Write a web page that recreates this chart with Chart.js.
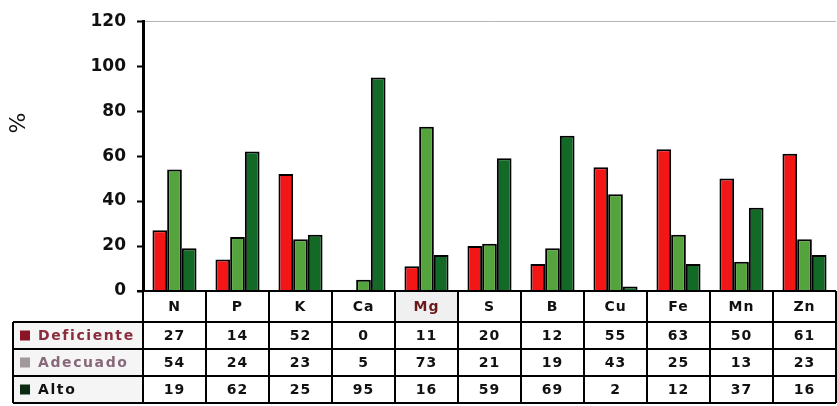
<!DOCTYPE html>
<html>
<head>
<meta charset="utf-8">
<script src="https://cdn.jsdelivr.net/npm/chart.js@4/dist/chart.umd.min.js"></script>
<style>
  html, body { margin: 0; padding: 0; background: #fff; }
  #wrap { position: relative; width: 837px; height: 406px; }
</style>
</head>
<body>
<div id="wrap"><canvas id="c" width="837" height="406"></canvas></div>
<script>
// Nutrientes analizados
const nutrientes = ['N', 'P', 'K', 'Ca', 'Mg', 'S', 'B', 'Cu', 'Fe', 'Mn', 'Zn'];

// Porcentaje de muestras por clase
const deficiente = [27, 14, 52, 0, 11, 20, 12, 55, 63, 50, 61];
const adecuado   = [54, 24, 23, 5, 73, 21, 19, 43, 25, 13, 23];
const alto       = [19, 62, 25, 95, 16, 59, 69, 2, 12, 37, 16];

// Escala vertical
const yTicks = [0, 20, 40, 60, 80, 100, 120];
const yTitle = '%';

const series = [
  { name: 'Deficiente', values: deficiente, color: '#f21616', key: '#8b1426', text: '#8a2c3c' },
  { name: 'Adecuado',   values: adecuado,   color: '#55a33c', key: '#a09a9c', text: '#86687a' },
  { name: 'Alto',       values: alto,       color: '#126a26', key: '#0b2a12', text: '#111111' }
];

const FONT = '"DejaVu Sans", "Liberation Sans", Arial, sans-serif';

// Tabla de datos bajo el eje X, alineada con las categorías
const dataTable = {
  id: 'dataTable',
  afterDraw(chart) {
    const ctx = chart.ctx;
    const area = chart.chartArea;
    const n = nutrientes.length;
    const colW = (area.right - area.left) / n;
    const rows = [area.bottom, area.bottom + 31, area.bottom + 58, area.bottom + 85, area.bottom + 112];
    const legendLeft = 13;

    ctx.save();

    // fondo de la columna de leyenda
    ctx.fillStyle = '#f5f5f5';
    ctx.fillRect(legendLeft, rows[1], area.left - legendLeft, rows[4] - rows[1]);
    // celda Mg resaltada
    const mgIdx = nutrientes.indexOf('Mg');
    ctx.fillStyle = '#f0f0f0';
    ctx.fillRect(area.left + mgIdx * colW, rows[0], colW, rows[1] - rows[0]);

    ctx.strokeStyle = '#000';
    ctx.lineWidth = 2;
    ctx.beginPath();
    // líneas horizontales
    ctx.moveTo(area.left - 6, rows[0]); ctx.lineTo(area.right, rows[0]);
    for (let r = 1; r < rows.length; r++) {
      ctx.moveTo(legendLeft, rows[r]); ctx.lineTo(area.right, rows[r]);
    }
    // líneas verticales
    for (let i = 0; i <= n; i++) {
      const x = area.left + i * colW;
      ctx.moveTo(x, rows[0]); ctx.lineTo(x, rows[4]);
    }
    ctx.moveTo(legendLeft, rows[1]); ctx.lineTo(legendLeft, rows[4]);
    ctx.stroke();

    ctx.textAlign = 'center';
    ctx.textBaseline = 'middle';
    ctx.font = 'bold 14px ' + FONT;
    if ('letterSpacing' in ctx) ctx.letterSpacing = '1px';
    nutrientes.forEach((lab, i) => {
      const cx = area.left + (i + 0.5) * colW;
      ctx.fillStyle = lab === 'Mg' ? '#6a1a1a' : '#111';
      ctx.fillText(lab, cx, (rows[0] + rows[1]) / 2 + 1);
      series.forEach((s, r) => {
        ctx.fillStyle = '#111';
        ctx.fillText(String(s.values[i]), cx, (rows[r + 1] + rows[r + 2]) / 2 + 1);
      });
    });

    // leyenda
    ctx.textAlign = 'left';
    if ('letterSpacing' in ctx) ctx.letterSpacing = '1.6px';
    series.forEach((s, r) => {
      const cy = (rows[r + 1] + rows[r + 2]) / 2;
      ctx.fillStyle = s.key;
      ctx.fillRect(20, cy - 5, 10, 10);
      ctx.fillStyle = s.text;
      ctx.fillText(s.name, 38, cy + 1);
    });

    // título del eje Y
    if ('letterSpacing' in ctx) ctx.letterSpacing = '0px';
    ctx.translate(19, 123);
    ctx.rotate(-Math.PI / 2);
    ctx.textAlign = 'center';
    ctx.fillStyle = '#111';
    ctx.font = '22px ' + FONT;
    ctx.fillText(yTitle, 0, 0);

    ctx.restore();
  }
};

new Chart(document.getElementById('c'), {
  type: 'bar',
  data: {
    labels: nutrientes,
    datasets: series.map(s => ({
      label: s.name,
      data: s.values,
      backgroundColor: s.color,
      borderColor: '#000',
      borderWidth: 2,
      categoryPercentage: 0.7,
      barPercentage: 1.0
    }))
  },
  options: {
    responsive: false,
    animation: false,
    layout: { padding: { top: 21, right: 1, bottom: 115, left: 0 } },
    plugins: {
      legend: { display: false },
      tooltip: { enabled: false }
    },
    scales: {
      x: { display: false },
      y: {
        min: 0,
        max: 120,
        afterFit(scale) { scale.width = 143; },
        afterBuildTicks(scale) { scale.ticks = yTicks.map(v => ({ value: v })); },
        ticks: {
          color: '#111',
          padding: 11,
          font: { family: FONT, size: 17, weight: 'bold' }
        },
        grid: {
          drawOnChartArea: true,
          color: ctx => (ctx.tick && ctx.tick.value === 120) ? '#b5b5b5' : 'rgba(0,0,0,0)',
          lineWidth: 1,
          tickColor: '#000',
          tickLength: 6,
          tickWidth: 2
        },
        border: { display: true, color: '#000', width: 3 }
      }
    }
  },
  plugins: [dataTable]
});
</script>
</body>
</html>
